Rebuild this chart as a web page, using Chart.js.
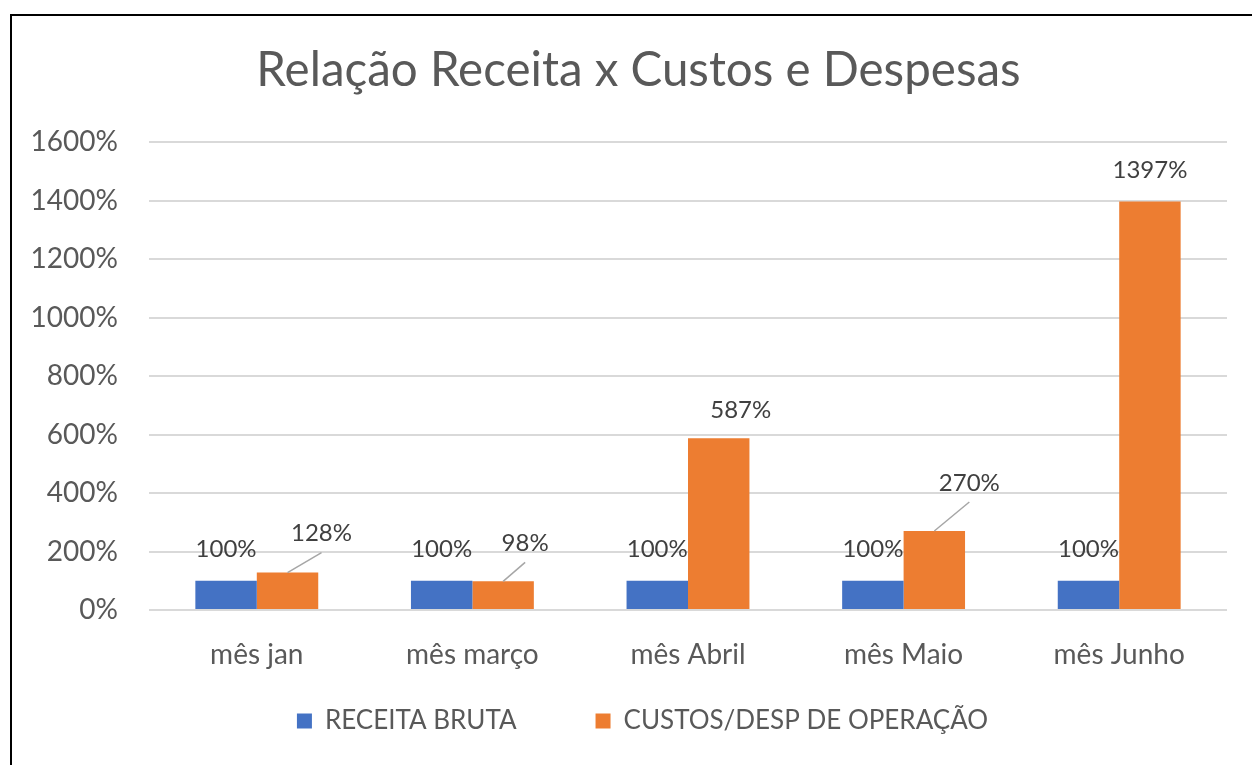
<!DOCTYPE html>
<html>
<head>
<meta charset="utf-8">
<script src="https://cdn.jsdelivr.net/npm/chart.js@4.4.0/dist/chart.umd.min.js"></script>
<style>
  html, body { margin: 0; padding: 0; background: #fff; overflow: hidden; }
  #wrap { position: relative; width: 1252px; height: 765px; }
  #frame { position: absolute; left: 10px; top: 14px; width: 1300px; height: 800px; border: 2px solid #000; pointer-events: none; }
</style>
</head>
<body>
<div id="wrap">
  <canvas id="myChart" width="1252" height="765"></canvas>
  <div id="frame"></div>
</div>
<script>
const months = ["mês jan", "mês março", "mês Abril", "mês Maio", "mês Junho"];
const receitaBruta = [100, 100, 100, 100, 100];
const custosDesp = [128, 98, 587, 270, 1397];
const seriesNames = ["RECEITA BRUTA", "CUSTOS/DESP DE OPERAÇÃO"];
const yMax = 1600;
const yStep = 200;

// label offsets (px) from the bar top, as moved by hand in the original
const labelShift = [
  [[0, -31], [0, -31], [0, -31], [0, -31], [0, -31]],
  [[34, -39], [22, -38], [22, -28], [35, -48], [0, -31]],
];

const dataLabels = {
  id: "dataLabels",
  afterDatasetsDraw(chart) {
    const ctx = chart.ctx;
    ctx.save();
    ctx.font = "24px Lato";
    ctx.fillStyle = "#404040";
    ctx.textAlign = "center";
    ctx.textBaseline = "middle";
    chart.data.datasets.forEach((ds, i) => {
      chart.getDatasetMeta(i).data.forEach((bar, j) => {
        const [dx, dy] = labelShift[i][j];
        const x = bar.x + dx;
        const y = bar.y + dy;
        if (Math.hypot(dx, dy) > 40) {
          ctx.strokeStyle = "#a6a6a6";
          ctx.lineWidth = 1.5;
          ctx.beginPath();
          ctx.moveTo(bar.x, bar.y);
          ctx.lineTo(x, y + 19);
          ctx.stroke();
        }
        ctx.fillText(ds.data[j] + "%", x, y);
      });
    });
    ctx.restore();
  },
};

// title and legend in the original sit a bit right of the canvas centre
const boxShift = {
  id: "boxShift",
  afterLayout(chart) {
    chart.titleBlock.left += 25;
    chart.titleBlock.right += 25;
    chart.legend.left += 29;
    chart.legend.right += 29;
  },
};

new Chart(document.getElementById("myChart"), {
  type: "bar",
  data: {
    labels: months,
    datasets: [
      {
        label: seriesNames[0],
        data: receitaBruta,
        backgroundColor: "#4472C4",
      },
      {
        label: seriesNames[1],
        data: custosDesp,
        backgroundColor: "#ED7D31",
      },
    ],
  },
  options: {
    responsive: false,
    animation: false,
    devicePixelRatio: 1,
    categoryPercentage: 0.57,
    barPercentage: 1,
    layout: { padding: { left: 0, right: 25, top: 0, bottom: 21 } },
    plugins: {
      title: {
        display: true,
        text: "Relação Receita x Custos e Despesas",
        color: "#595959",
        font: { family: "Lato", size: 47.5, weight: "normal" },
        padding: { top: 42, bottom: 43 },
      },
      legend: {
        position: "bottom",
        labels: {
          color: "#595959",
          font: { family: "Lato", size: 26 },
          boxWidth: 15,
          boxHeight: 15,
          padding: 14,
          generateLabels(chart) {
            const items = Chart.defaults.plugins.legend.labels.generateLabels(chart);
            items[0].text = items[0].text + "\u2002\u2002\u2002\u2002\u2002";
            return items;
          },
        },
      },
      tooltip: { enabled: false },
    },
    scales: {
      x: {
        grid: { display: false },
        border: { display: false },
        ticks: {
          color: "#595959",
          font: { family: "Lato", size: 28 },
          padding: 20,
        },
        afterFit(axis) { axis.height = 84; },
      },
      y: {
        min: 0,
        max: yMax,
        ticks: {
          stepSize: yStep,
          color: "#595959",
          font: { family: "Lato", size: 28 },
          padding: 31,
          callback: (v) => v + "%",
        },
        grid: { color: "#d9d9d9", lineWidth: 2, drawTicks: false },
        border: { display: false },
        afterFit(axis) { axis.width = 149; },
      },
    },
  },
  plugins: [dataLabels, boxShift],
});
</script>
</body>
</html>
